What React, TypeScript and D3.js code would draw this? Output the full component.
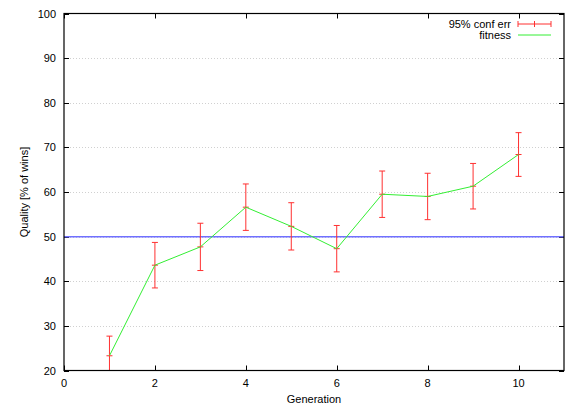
import React from "react";
import * as d3 from "d3";

const generations = [1, 2, 3, 4, 5, 6, 7, 8, 9, 10];
const fitness = [23.3, 43.6, 47.7, 56.6, 52.3, 47.3, 59.5, 59.0, 61.3, 68.4];
const errHalf = [4.4, 5.1, 5.3, 5.2, 5.3, 5.2, 5.2, 5.2, 5.1, 4.9];
const xTicks = [0, 2, 4, 6, 8, 10];
const yTicks = [20, 30, 40, 50, 60, 70, 80, 90, 100];
const baseline = 50;

const W = 581, H = 407;
const L = 64, R = 564, T = 13.5, B = 370.5;
const font = "Liberation Sans, Arial, Helvetica, sans-serif";

export default function App() {
  const x = d3.scaleLinear().domain([0, 11]).range([L, R]);
  const y = d3.scaleLinear().domain([20, 100]).range([B, T]);
  const line = d3.line<number>().x((_, i) => x(generations[i])).y((d) => y(d));
  const cap = 3;
  return (
    <svg width={W} height={H} style={{ position: "absolute", left: 0, top: 0, background: "#fff" }}>
      <defs>
        <clipPath id="plot"><rect x={L} y={T} width={R - L} height={B - T} /></clipPath>
      </defs>
      {yTicks.filter((t) => t > 20 && t < 100).map((t) => (
        <line key={"g" + t} x1={L} x2={R} y1={Math.round(y(t)) + 0.5} y2={Math.round(y(t)) + 0.5}
          stroke="#d0d0d0" strokeWidth={1} strokeDasharray="1,2" />
      ))}
      {yTicks.map((t) => (
        <g key={"y" + t}>
          <line x1={L} x2={L + 5} y1={Math.round(y(t)) + 0.5} y2={Math.round(y(t)) + 0.5} stroke="#000" />
          <line x1={R - 5} x2={R} y1={Math.round(y(t)) + 0.5} y2={Math.round(y(t)) + 0.5} stroke="#000" />
          <text x={L - 8} y={y(t) + 4} textAnchor="end" fontFamily={font} fontSize={11}>{t}</text>
        </g>
      ))}
      {xTicks.map((t) => (
        <g key={"x" + t}>
          <line x1={Math.round(x(t)) + 0.5} x2={Math.round(x(t)) + 0.5} y1={B} y2={B - 5} stroke="#000" />
          <line x1={Math.round(x(t)) + 0.5} x2={Math.round(x(t)) + 0.5} y1={T} y2={T + 5} stroke="#000" />
          <text x={x(t)} y={B + 16} textAnchor="middle" fontFamily={font} fontSize={11}>{t}</text>
        </g>
      ))}
      <g clipPath="url(#plot)">
        <line x1={L} x2={R} y1={y(baseline)} y2={y(baseline)} stroke="#7070ff" strokeWidth={1.5} />
        {generations.map((g, i) => {
          const cx = x(g);
          const lo = y(fitness[i] - errHalf[i]);
          const hi = y(fitness[i] + errHalf[i]);
          const m = y(fitness[i]);
          return (
            <g key={"e" + g} stroke="#ff3030" strokeWidth={1}>
              <line x1={cx} x2={cx} y1={lo} y2={hi} />
              <line x1={cx - cap} x2={cx + cap} y1={lo} y2={lo} />
              <line x1={cx - cap} x2={cx + cap} y1={hi} y2={hi} />
              <line x1={cx - cap} x2={cx + cap} y1={m} y2={m} />
            </g>
          );
        })}
        <path d={line(fitness) || ""} fill="none" stroke="#33ee33" strokeWidth={1} />
      </g>
      <rect x={L} y={T} width={R - L} height={B - T} fill="none" stroke="#000" strokeWidth={1.2} />
      <g fontFamily={font} fontSize={11}>
        <text x={511} y={28} textAnchor="end">95% conf err</text>
        <g stroke="#ff3030">
          <line x1={518} x2={551} y1={24} y2={24} />
          <line x1={518} x2={518} y1={21} y2={27} />
          <line x1={551} x2={551} y1={21} y2={27} />
          <line x1={534.5} x2={534.5} y1={21} y2={27} />
        </g>
        <text x={511} y={39} textAnchor="end">fitness</text>
        <line x1={518} x2={551} y1={35} y2={35} stroke="#33ee33" />
      </g>
      <text x={314} y={403} textAnchor="middle" fontFamily={font} fontSize={11}>Generation</text>
      <text transform={`translate(28,${(T + B) / 2}) rotate(-90)`} textAnchor="middle" fontFamily={font} fontSize={11}>Quality [% of wins]</text>
    </svg>
  );
}
